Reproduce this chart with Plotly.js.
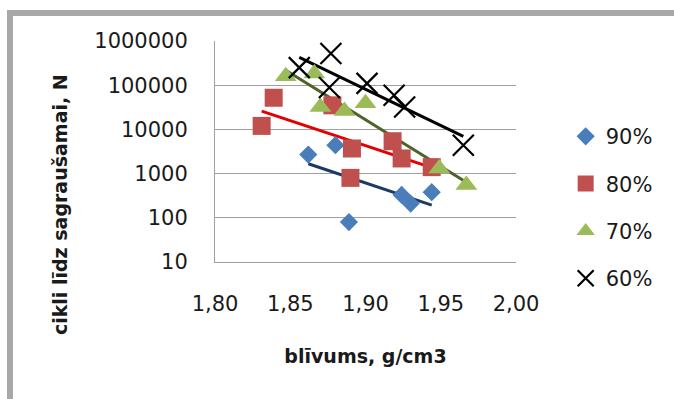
<!DOCTYPE html>
<html>
<head>
<meta charset="utf-8">
<script src="https://cdn.plot.ly/plotly-3.0.1.min.js"></script>
<style>
  html, body { margin: 0; padding: 0; background: #ffffff; }
  #wrap { position: relative; width: 674px; height: 399px; overflow: hidden; }
  #chart { position: absolute; left: 0; top: 0; width: 674px; height: 399px; }
  #frame { position: absolute; left: 7px; top: 10px; width: 700px; height: 420px;
           border-left: 6px solid #a8a8a8; border-top: 6px solid #a8a8a8; pointer-events: none; }
</style>
</head>
<body>
<div id="wrap">
  <div id="chart"></div>
  <div id="frame"></div>
</div>
<script>
// Series names
const seriesNames = ['90%', '80%', '70%', '60%'];

// Density (g/cm3) per series
const x90 = [1.862, 1.880, 1.889, 1.924, 1.930, 1.944];
const x80 = [1.839, 1.831, 1.878, 1.891, 1.890, 1.918, 1.924, 1.944];
const x70 = [1.847, 1.866, 1.870, 1.886, 1.900, 1.949, 1.967];
const x60 = [1.856, 1.877, 1.876, 1.901, 1.919, 1.926, 1.965];

// Cycles to failure per series
const y90 = [2700, 4400, 80, 330, 210, 380];
const y80 = [52000, 12000, 35000, 3700, 800, 5400, 2200, 1400];
const y70 = [160000, 185000, 32000, 26000, 39000, 1300, 550];
const y60 = [250000, 520000, 89000, 110000, 59000, 32000, 4400];

// Axis ticks
const xTicks = [1.80, 1.85, 1.90, 1.95, 2.00];
const xTickText = ['1,80', '1,85', '1,90', '1,95', '2,00'];
const yTicks = [10, 100, 1000, 10000, 100000, 1000000];
const yTickText = ['10', '100', '1000', '10000', '100000', '1000000'];

// Exponential trendline (least squares on log10 y), drawn between min and max x
function expTrend(xs, ys) {
  const n = xs.length;
  const ly = ys.map(v => Math.log10(v));
  const mx = xs.reduce((a, b) => a + b, 0) / n;
  const my = ly.reduce((a, b) => a + b, 0) / n;
  let sxy = 0, sxx = 0;
  for (let i = 0; i < n; i++) { sxy += (xs[i] - mx) * (ly[i] - my); sxx += (xs[i] - mx) ** 2; }
  const b = sxy / sxx;
  const x0 = Math.min(...xs), x1 = Math.max(...xs);
  return { x: [x0, x1], y: [x0, x1].map(v => Math.pow(10, my + b * (v - mx))) };
}

const font = 'DejaVu Sans, sans-serif';
const sets = [
  { x: x90, y: y90, sym: 'diamond', size: 14, col: '#4a7ebb', line: '#1c3a64' },
  { x: x80, y: y80, sym: 'square', size: 18, col: '#c0504d', line: '#e30000' },
  { x: x70, y: y70, sym: 'triangle-up', size: 19, col: '#9bbb59', line: '#4f6228' },
  { x: x60, y: y60, sym: 'x-thin-open', size: 21, col: '#000000', line: '#000000' }
];

const traces = [];
sets.forEach((s, i) => {
  const t = expTrend(s.x, s.y);
  traces.push({
    x: t.x, y: t.y, mode: 'lines', type: 'scatter', showlegend: false,
    legendgroup: 'g' + i, hoverinfo: 'skip',
    line: { color: s.line, width: 3 }
  });
});
sets.forEach((s, i) => {
  const m = { symbol: s.sym, size: s.size, color: s.col };
  if (s.sym === 'x-thin-open') m.line = { color: s.col, width: 2.2 };
  traces.push({
    x: s.x, y: s.y, mode: 'markers', type: 'scatter', name: seriesNames[i],
    legendgroup: 'g' + i, marker: m
  });
});

const layout = {
  width: 674, height: 399,
  margin: { l: 215, r: 158, t: 41, b: 137, pad: 0 },
  paper_bgcolor: '#ffffff', plot_bgcolor: '#ffffff',
  font: { family: font, size: 21, color: '#1a1a1a' },
  showlegend: true,
  legend: {
    x: 1.165, xanchor: 'left', y: 0.66, yanchor: 'top',
    font: { family: font, size: 21, color: '#1a1a1a' },
    tracegroupgap: 17, bgcolor: 'rgba(0,0,0,0)', itemwidth: 30
  },
  xaxis: {
    range: [1.80, 2.00], tickvals: xTicks, ticktext: xTickText,
    showgrid: false, zeroline: false, showline: true, linecolor: '#a0a0a0', linewidth: 1,
    ticks: '', ticklabelstandoff: 23,
    tickfont: { family: font, size: 21, color: '#1a1a1a' },
    title: { text: 'blīvums, g/cm3', standoff: 34,
             font: { family: font, size: 19, color: '#1a1a1a', weight: 'bold' } }
  },
  yaxis: {
    type: 'log', range: [1, 6], tickvals: yTicks, ticktext: yTickText,
    showgrid: true, gridcolor: '#a0a0a0', gridwidth: 1, zeroline: false,
    showline: true, linecolor: '#a0a0a0', linewidth: 1,
    ticks: '', ticklabelstandoff: 22,
    tickfont: { family: font, size: 21, color: '#1a1a1a' }
  },
  annotations: [{
    text: '<b>cikli līdz sagraušamai, N</b>', xref: 'paper', yref: 'paper',
    x: -0.515, y: 0.262, xanchor: 'center', yanchor: 'middle', textangle: -90,
    showarrow: false, font: { family: font, size: 19, color: '#1a1a1a' }
  }]
};

Plotly.newPlot('chart', traces, layout, { displayModeBar: false, staticPlot: true });
</script>
</body>
</html>
